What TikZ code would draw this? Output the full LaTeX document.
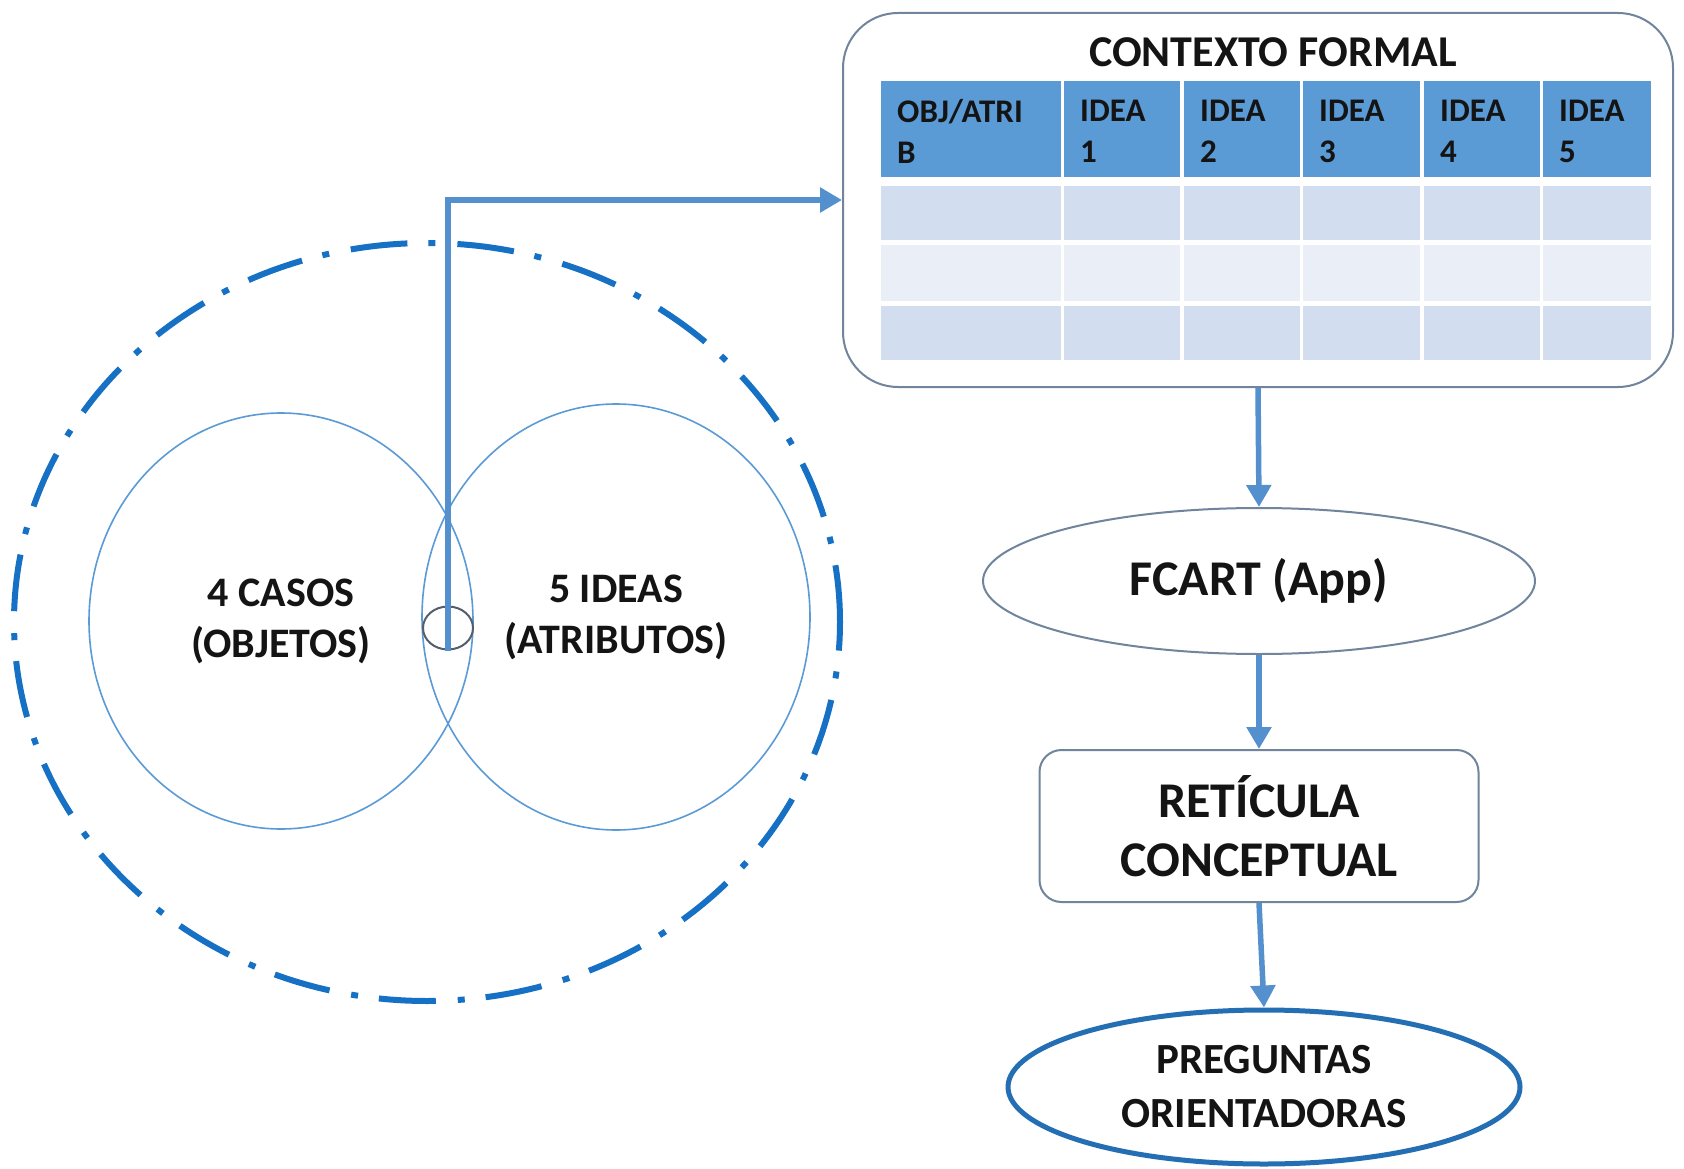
\documentclass[tikz,border=0pt]{standalone}
\usepackage{fontspec}
\setmainfont{Carlito}
\usetikzlibrary{arrows.meta,shapes.geometric}
\definecolor{lineblue}{RGB}{91,155,213}
\definecolor{connblue}{RGB}{84,143,206}
\definecolor{dashblue}{RGB}{22,112,196}
\definecolor{hdrblue}{RGB}{91,155,213}
\definecolor{rowA}{RGB}{210,222,239}
\definecolor{rowB}{RGB}{234,239,247}
\definecolor{framec}{RGB}{112,132,156}
\definecolor{pregblue}{RGB}{36,110,180}
\definecolor{smallc}{RGB}{85,95,108}
\definecolor{txt}{RGB}{20,20,20}
\begin{document}
\begin{tikzpicture}[x=1pt,y=-1pt,
  conn/.style={draw=connblue, line width=5.5pt, -{Triangle[length=22pt,width=24pt]}},
  setnode/.style={ellipse, draw=lineblue, line width=1.6pt, inner sep=0pt, align=center, text=txt,
     font=\bfseries\fontsize{42}{51}\selectfont},
  hdr/.style={anchor=west, align=left, inner sep=0pt, text=txt, font=\bfseries\fontsize{33}{41}\selectfont},
  flowtxt/.style={align=center, inner sep=0pt, text=txt}
]
\useasboundingbox (0,0) rectangle (1684,1169);
\fill[white] (0,0) rectangle (1684,1169);

% big dash-dot ellipse
\draw[dashblue, line width=6pt, dash pattern=on 57pt off 22pt on 7pt off 21pt]
  (427,622) ellipse [x radius=413pt, y radius=379pt];

% two sets
\node[setnode, minimum width=384pt, minimum height=416pt] (cas) at (281,621) {4 CASOS\\(OBJETOS)};
\node[setnode, minimum width=388pt, minimum height=426pt] (ide) at (616,617) {5 IDEAS\\(ATRIBUTOS)};
\node[ellipse, draw=smallc, line width=2pt, minimum width=50pt, minimum height=43pt, inner sep=0pt] (sc) at (448,628) {};

% formal context box
\node[draw=framec, line width=2pt, rounded corners=55pt, minimum width=830pt, minimum height=374pt, inner sep=0pt] (ctx) at (1258,200) {};
\node[inner sep=0pt, text=txt, font=\bfseries\fontsize{44}{53}\selectfont] (title) at (1273,52) {CONTEXTO FORMAL};

\foreach \l/\r in {881/1061, 1064/1180, 1184/1300, 1303/1420, 1424/1540, 1543/1651}{
  \fill[hdrblue] (\l,81) rectangle (\r,177);
  \fill[rowA] (\l,186) rectangle (\r,240);
  \fill[rowB] (\l,245) rectangle (\r,301);
  \fill[rowA] (\l,306) rectangle (\r,360);
}
\node[hdr] (h0) at (897,131) {OBJ/ATRI\\B};
\node[hdr] (h1) at (1080,131) {IDEA\\1};
\node[hdr] (h2) at (1200,131) {IDEA\\2};
\node[hdr] (h3) at (1319,131) {IDEA\\3};
\node[hdr] (h4) at (1440,131) {IDEA\\4};
\node[hdr] (h5) at (1559,131) {IDEA\\5};

% flow nodes
\node[ellipse, draw=framec, line width=2pt, minimum width=552pt, minimum height=146pt, flowtxt,
      font=\bfseries\fontsize{50}{61}\selectfont] (fcart) at (1259,581) {FCART (App)};
\node[draw=framec, line width=2pt, rounded corners=22pt, minimum width=439pt, minimum height=152pt, flowtxt,
      font=\bfseries\fontsize{50}{59}\selectfont] (ret) at (1259,826) {RETÍCULA\\CONCEPTUAL};
\node[ellipse, draw=pregblue, line width=5pt, minimum width=512pt, minimum height=154pt, flowtxt,
      font=\bfseries\fontsize{43}{54}\selectfont] (preg) at (1264,1087) {PREGUNTAS\\ORIENTADORAS};

% connectors
\draw[conn] (sc.south) |- (ctx.west);
\draw[conn] (ctx.south) -- (fcart.north);
\draw[conn] (fcart.south) -- (ret.north);
\draw[conn] (ret.south) -- (preg.north);
\end{tikzpicture}
\end{document}
